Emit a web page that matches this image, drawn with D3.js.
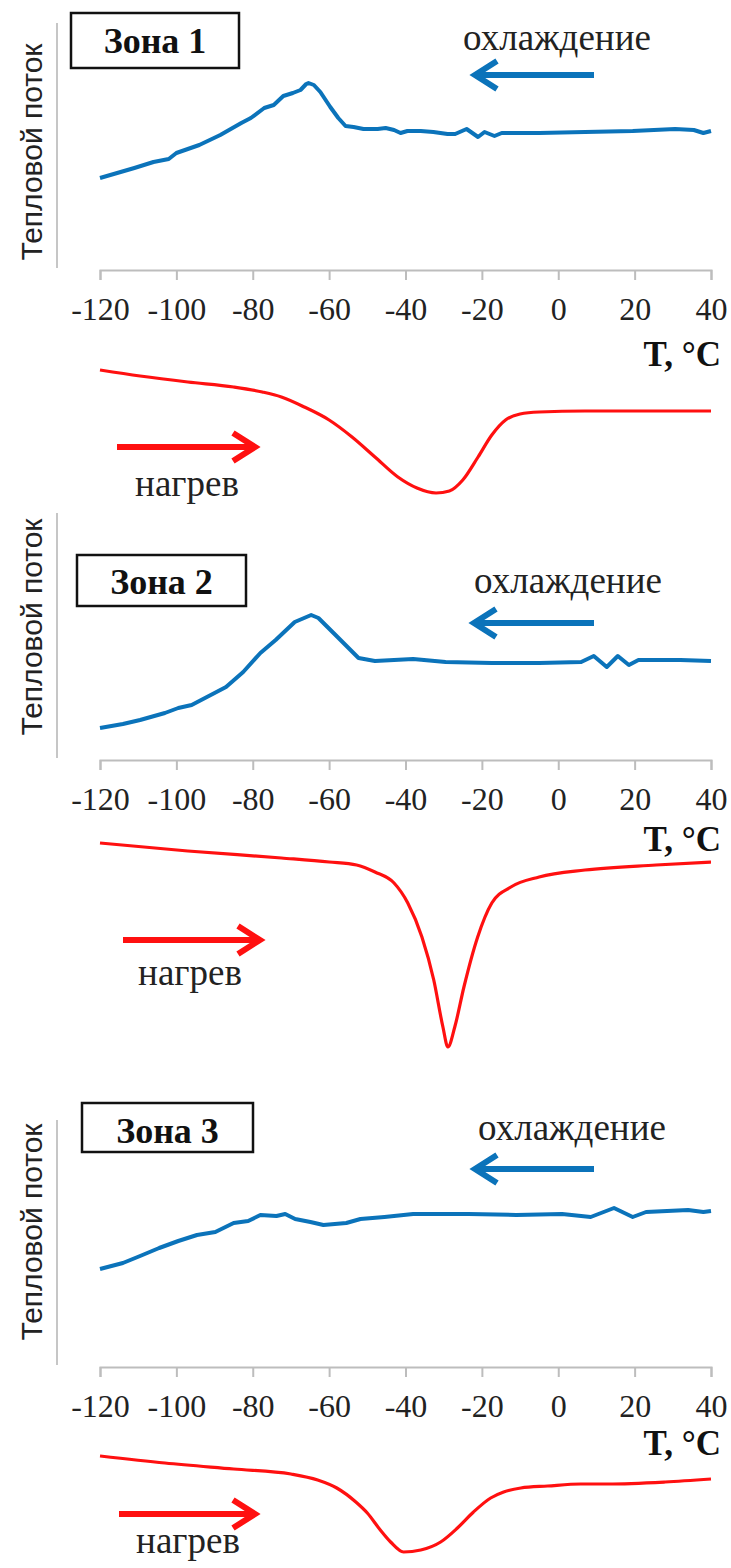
<!DOCTYPE html>
<html>
<head>
<meta charset="utf-8">
<script src="https://cdn.jsdelivr.net/npm/d3@7"></script>
<style>
  body { margin: 0; background: #fff; }
  svg { display: block; }
</style>
</head>
<body>
<svg width="731" height="1568"></svg>
<script>
  // tick labels on the temperature axis
  var tempTicks = [-120, -100, -80, -60, -40, -20, 0, 20, 40];
  var zoneNames = ["Зона 1", "Зона 2", "Зона 3"];

  // heat flow, arbitrary units: [T, value]
  var cooling1 = [[-120,322],[-111,332],[-106,338],[-102,341],[-100,347],[-94,355],[-88.5,365],[-83,377],[-80.5,382],
    [-77,392],[-74.5,395],[-72,404],[-69.5,407],[-67.5,410],[-66,416],[-65.4,417],[-64,415],[-62.3,408],[-59.7,393],
    [-57.6,382],[-55.7,374],[-53.6,373],[-51,371],[-47.3,371],[-45.2,372],[-43,370],[-41.3,367],[-39.5,369],[-36,369],
    [-32.7,368],[-29,366],[-27,366],[-24,371],[-21,363],[-19.3,368],[-16.7,364],[-14.8,367],[-5,367],[7,368],
    [19.5,369],[30.6,371],[35.5,370],[38,367],[40,369]];
  var heating1 = [[-120,130],[-109.5,124],[-97,118],[-85,113],[-77.5,108],[-72.5,103],[-66.5,93],[-60,80],[-54,63],
    [-48,43],[-42,23],[-37,12],[-32,7],[-28.5,9],[-25,20],[-21,43],[-17.4,65],[-13.8,80],[-10,86],[-5,88],[7,89],
    [25.6,89],[40,89]];

  var cooling2 = [[-120,332],[-114,336],[-109.5,340],[-103,347],[-99.5,352],[-96,355],[-92,363],[-87,373],[-82.5,388],
    [-78,407],[-74,420],[-69,438],[-64.7,445],[-62.8,442],[-57.8,423],[-52.3,402],[-48,399],[-38,401],[-29.5,398],
    [-17.4,397],[-5,397],[6,398],[9.3,404],[12.7,393],[15.6,404],[18.5,395],[21,400],[32,400],[40,399]];
  var heating2 = [[-120,217],[-97,209],[-72.5,202],[-60,198],[-52.8,195],[-48,188],[-43,177],[-39.4,157],[-35.7,123],
    [-32.6,80],[-30.2,33],[-28.9,13],[-27.1,33],[-24.7,73],[-21.1,123],[-17.4,157],[-12.4,173],[-5,183],[7,190],
    [25.6,195],[40,198]];

  var cooling3 = [[-120,296],[-114,302],[-109.5,309],[-104.5,317],[-99.5,324],[-94.6,330],[-89.8,333],[-85,342],
    [-81.2,344],[-78,350],[-73.8,349],[-71.5,351],[-68.9,346],[-64.9,343],[-61.5,340],[-55.5,342],[-51.8,346],
    [-45.5,348],[-38,351],[-23.5,351],[-11,350],[1,351],[8.5,348],[14.6,357],[19.5,348],[23,353],[34,355],[38,353],[40,354]];
  var heating3 = [[-120,109],[-103,102],[-85,96],[-70,91],[-63,85],[-58,77],[-53,63],[-50,52],[-46.6,35],[-43.9,23],
    [-40.5,13],[-36,15],[-30.8,23],[-26.4,37],[-22.2,53],[-17.7,67],[-14.3,73],[-9.8,77],[-2.8,79],[5.9,81],[13,81],
    [28,83],[40,86]];

  var coolingSeries = [cooling1, cooling2, cooling3];
  var heatingSeries = [heating1, heating2, heating3];

  // layout of each panel (pixels)
  var panels = [
    { y0: 500,  axisY: 270,  vTop: 23,   vBot: 268,  labelY: 152,  titleBaseline: 366,
      box: [71, 13, 168, 55],   boxBase: 53,
      coolText: [557, 50],   coolArrow: [594, 475, 75],
      heatText: [187, 496],  heatArrow: [117, 255, 447] },
    { y0: 1060, axisY: 760,  vTop: 513,  vBot: 758,  labelY: 627,  titleBaseline: 851,
      box: [77, 555, 169, 51],  boxBase: 594,
      coolText: [568, 593],  coolArrow: [594, 474, 623],
      heatText: [190, 985],  heatArrow: [123, 260, 940] },
    { y0: 1565, axisY: 1367, vTop: 1120, vBot: 1365, labelY: 1232, titleBaseline: 1455,
      box: [82, 1103, 171, 49], boxBase: 1143,
      coolText: [572, 1140], coolArrow: [594, 475, 1169],
      heatText: [188, 1553], heatArrow: [119, 255, 1514] }
  ];

  var svg = d3.select("svg");
  var serif = "'Liberation Serif', 'Times New Roman', serif";
  var sans = "'Liberation Sans', Arial, sans-serif";

  var x = d3.scaleLinear().domain([-120, 40]).range([100, 711]);

  function arrow(g, x1, x2, y, color) {
    var dir = x2 > x1 ? -1 : 1;
    g.append("path")
      .attr("d", "M" + x1 + "," + y + "H" + x2 +
                 "M" + (x2 + dir * 22) + "," + (y - 14) + "L" + x2 + "," + y + "L" + (x2 + dir * 22) + "," + (y + 14))
      .attr("fill", "none")
      .attr("stroke", color)
      .attr("stroke-width", 6)
      .attr("stroke-linejoin", "miter");
  }

  panels.forEach(function(p, i) {
    var g = svg.append("g");
    var y = d3.scaleLinear().domain([0, 500]).range([p.y0, p.y0 - 500]);

    // vertical axis line
    g.append("line")
      .attr("x1", 57).attr("x2", 57)
      .attr("y1", p.vTop).attr("y2", p.vBot)
      .attr("stroke", "#c6c6c6").attr("stroke-width", 2);

    g.append("text")
      .attr("transform", "translate(42," + p.labelY + ") rotate(-90)")
      .attr("text-anchor", "middle")
      .attr("font-family", sans)
      .attr("font-size", "30px")
      .attr("fill", "#222")
      .text("Тепловой поток");

    // temperature axis
    var ax = g.append("g")
      .attr("transform", "translate(0," + p.axisY + ")")
      .call(d3.axisBottom(x).tickValues(tempTicks).tickSize(10).tickSizeOuter(10).tickPadding(17)
        .tickFormat(function(d) { return String(d); }));
    ax.select(".domain").attr("stroke", "#bdbdbd").attr("stroke-width", 2);
    ax.selectAll(".tick line").attr("stroke", "#bdbdbd").attr("stroke-width", 2);
    ax.selectAll(".tick text")
      .attr("font-family", serif)
      .attr("font-size", "32px")
      .attr("fill", "#222");

    g.append("text")
      .attr("x", 721).attr("y", p.titleBaseline)
      .attr("text-anchor", "end")
      .attr("font-family", serif)
      .attr("font-weight", "bold")
      .attr("font-size", "35px")
      .attr("fill", "#111")
      .text("T, °C");

    // zone box
    g.append("rect")
      .attr("x", p.box[0]).attr("y", p.box[1])
      .attr("width", p.box[2]).attr("height", p.box[3])
      .attr("fill", "#fff").attr("stroke", "#111").attr("stroke-width", 2.5);
    g.append("text")
      .attr("x", p.box[0] + p.box[2] / 2).attr("y", p.boxBase)
      .attr("text-anchor", "middle")
      .attr("font-family", serif)
      .attr("font-weight", "bold")
      .attr("font-size", "36px")
      .attr("fill", "#111")
      .text(zoneNames[i]);

    var line = d3.line()
      .x(function(d) { return x(d[0]); })
      .y(function(d) { return y(d[1]); });

    g.append("path")
      .datum(coolingSeries[i])
      .attr("d", line.curve(d3.curveLinear))
      .attr("fill", "none")
      .attr("stroke", "#0b73ba")
      .attr("stroke-width", 4)
      .attr("stroke-linejoin", "round");

    g.append("path")
      .datum(heatingSeries[i])
      .attr("d", line.curve(d3.curveMonotoneX))
      .attr("fill", "none")
      .attr("stroke", "#ff1010")
      .attr("stroke-width", 3.2);

    // direction labels
    g.append("text")
      .attr("x", p.coolText[0]).attr("y", p.coolText[1])
      .attr("text-anchor", "middle")
      .attr("font-family", serif)
      .attr("font-size", "37px")
      .attr("fill", "#222")
      .text("охлаждение");
    arrow(g, p.coolArrow[0], p.coolArrow[1], p.coolArrow[2], "#0b73ba");

    g.append("text")
      .attr("x", p.heatText[0]).attr("y", p.heatText[1])
      .attr("text-anchor", "middle")
      .attr("font-family", serif)
      .attr("font-size", "37px")
      .attr("fill", "#222")
      .text("нагрев");
    arrow(g, p.heatArrow[0], p.heatArrow[1], p.heatArrow[2], "#ff1010");
  });
</script>
</body>
</html>
